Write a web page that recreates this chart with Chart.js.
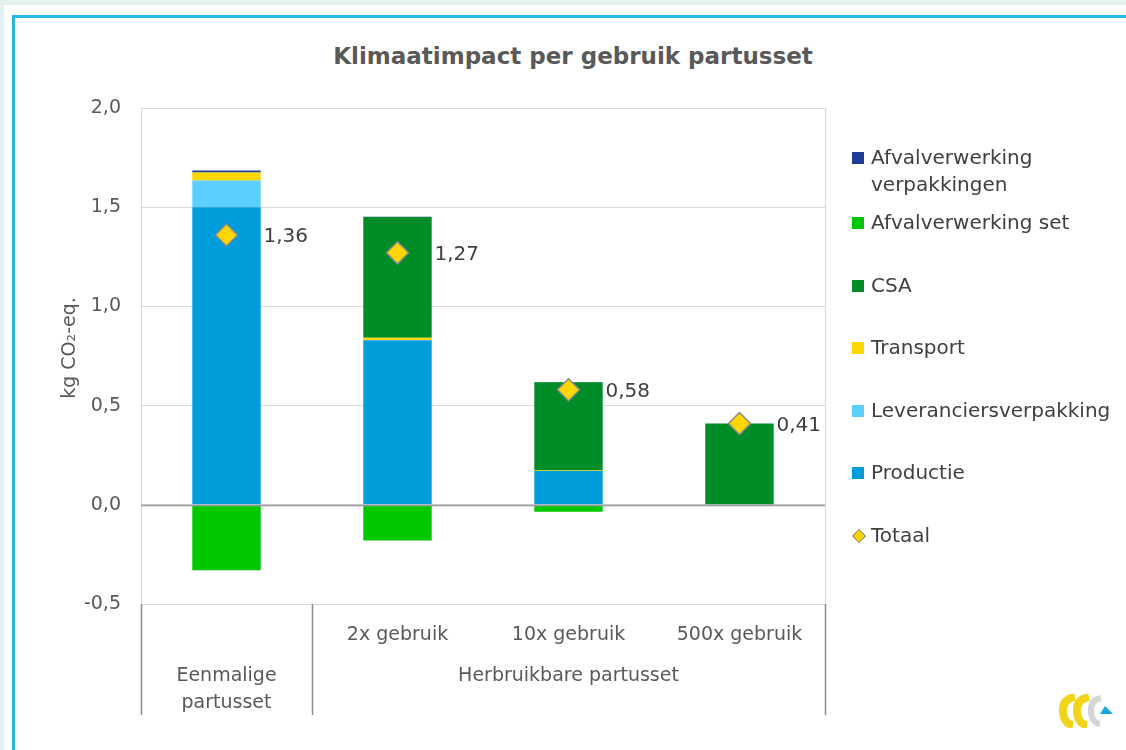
<!DOCTYPE html>
<html>
<head>
<meta charset="utf-8">
<script src="https://cdn.jsdelivr.net/npm/chart.js@4.4.1/dist/chart.umd.min.js"></script>
<style>
  html, body { margin: 0; padding: 0; }
  body { width: 1126px; height: 750px; background: #e4f2ef; position: relative; overflow: hidden; font-family: 'DejaVu Sans', sans-serif; }
  #sheet { position: absolute; left: 4px; top: 5px; right: 0; bottom: 0; background: #fff; }
  #frame { position: absolute; left: 12px; top: 15px; width: 1130px; height: 750px; border-left: 3px solid #27b9e3; border-top: 3px solid #27b9e3; }
  #wrap { position: absolute; left: 0; top: 0; width: 1126px; height: 750px; }
  #title { position: absolute; left: 0; width: 1146px; top: 43px; text-align: center; font-weight: bold; font-size: 23px; color: #595959; }
  #legend { position: absolute; left: 852px; top: 144px; font-size: 20px; color: #404040; }
  #legend .item { position: absolute; left: 0; white-space: nowrap; line-height: 27px; }
  #legend .sw { position: absolute; left: 0; top: 8px; width: 12px; height: 12px; }
  #legend .txt { position: absolute; left: 19px; top: 0; }
  #legend .dia { position: absolute; left: 2px; top: 9px; width: 8px; height: 8px; background: #ffd700; border: 1px solid #8c8c8c; transform: rotate(45deg); }
  #logo { position: absolute; left: 1058px; top: 694px; }
</style>
</head>
<body>
<div id="sheet"></div>
<div id="frame"></div>
<div id="title">Klimaatimpact per gebruik partusset</div>
<div id="wrap"><canvas id="chart"></canvas></div>
<div id="legend"></div>
<svg id="logo" width="56" height="34" viewBox="0 0 56 34">
  <path d="M17 3 Q4 5 5 18 Q6 30 15 31" fill="none" stroke="#f2d31b" stroke-width="8"/>
  <path d="M31 3 Q18 5 19 18 Q20 30 29 31" fill="none" stroke="#f2d31b" stroke-width="8"/>
  <path d="M43 4 Q32 6 33 18 Q34 29 42 30" fill="none" stroke="#d6d6d6" stroke-width="6"/>
  <path d="M47 12 L55 20 L42 20 Z" fill="#1aa6e0"/>
</svg>
<script>
const categories = ['Eenmalige partusset', '2x gebruik', '10x gebruik', '500x gebruik'];
const tickLabels = ['', '2x gebruik', '10x gebruik', '500x gebruik'];
const groups = [
  { lines: ['Eenmalige', 'partusset'], from: 0, to: 0 },
  { lines: ['Herbruikbare partusset'], from: 1, to: 3 }
];

const productie = [1.50, 0.83, 0.17, 0.0];
const leveranciersverpakking = [0.135, 0, 0, 0];
const transport = [0.04, 0.012, 0.003, 0];
const csa = [0, 0.608, 0.445, 0.41];
const afvalSet = [-0.33, -0.18, -0.035, 0];
const afvalVerpakkingen = [0.01, 0.002, 0.001, 0];
const totaal = [1.36, 1.27, 0.58, 0.41];

const yTicks = [-0.5, 0, 0.5, 1.0, 1.5, 2.0];

const colors = {
  afvalVerp: '#1f3c96',
  afvalSet: '#00c800',
  csa: '#008c26',
  transport: '#ffd700',
  lever: '#5ccfff',
  productie: '#009ddc'
};

const legendItems = [
  { label: ['Afvalverwerking', 'verpakkingen'], color: colors.afvalVerp, y: 0 },
  { label: ['Afvalverwerking set'], color: colors.afvalSet, y: 65 },
  { label: ['CSA'], color: colors.csa, y: 128 },
  { label: ['Transport'], color: colors.transport, y: 190 },
  { label: ['Leveranciersverpakking'], color: colors.lever, y: 253 },
  { label: ['Productie'], color: colors.productie, y: 315 },
  { label: ['Totaal'], diamond: true, y: 378 }
];

const legend = document.getElementById('legend');
legendItems.forEach(it => {
  const d = document.createElement('div');
  d.className = 'item';
  d.style.top = it.y + 'px';
  const mark = document.createElement('span');
  if (it.diamond) mark.className = 'dia';
  else { mark.className = 'sw'; mark.style.background = it.color; }
  d.appendChild(mark);
  const t = document.createElement('span');
  t.className = 'txt';
  t.innerHTML = it.label.join('<br>');
  d.appendChild(t);
  legend.appendChild(d);
});

const fmt = v => v.toFixed(1).replace('.', ',');
const FONT = "'DejaVu Sans', sans-serif";

const frameLines = {
  id: 'frameLines',
  afterDraw(chart) {
    const ctx = chart.ctx, a = chart.chartArea, y = chart.scales.y;
    const step = (a.right - a.left) / categories.length;
    const bottom = 715;
    ctx.save();
    // plot border
    ctx.strokeStyle = '#d9d9d9';
    ctx.lineWidth = 1;
    ctx.beginPath();
    ctx.moveTo(a.left + 0.5, a.top + 0.5); ctx.lineTo(a.right + 0.5, a.top + 0.5);
    ctx.lineTo(a.right + 0.5, a.bottom + 0.5); ctx.lineTo(a.left + 0.5, a.bottom + 0.5);
    ctx.closePath();
    ctx.stroke();
    // zero line
    const y0 = Math.round(y.getPixelForValue(0)) + 0.5;
    ctx.strokeStyle = '#9a9a9a';
    ctx.lineWidth = 1.5;
    ctx.beginPath(); ctx.moveTo(a.left, y0); ctx.lineTo(a.right, y0); ctx.stroke();
    // group separators
    ctx.strokeStyle = '#8c8c8c';
    ctx.lineWidth = 1.5;
    const seps = [a.left];
    groups.forEach(g => seps.push(a.left + step * (g.to + 1)));
    seps.forEach(sx => {
      ctx.beginPath(); ctx.moveTo(Math.round(sx) + 0.5, a.bottom); ctx.lineTo(Math.round(sx) + 0.5, bottom); ctx.stroke();
    });
    // group labels
    ctx.fillStyle = '#595959';
    ctx.font = '19px ' + FONT;
    ctx.textAlign = 'center';
    ctx.textBaseline = 'middle';
    groups.forEach(g => {
      const cx = a.left + step * (g.from + g.to + 1) / 2;
      g.lines.forEach((ln, i) => ctx.fillText(ln, cx, 676 + i * 27));
    });
    // total labels
    const meta = chart.getDatasetMeta(chart.data.datasets.length - 1);
    ctx.fillStyle = '#404040';
    ctx.font = '20px ' + FONT;
    ctx.textAlign = 'left';
    meta.data.forEach((pt, i) => {
      ctx.fillText(totaal[i].toFixed(2).replace('.', ','), pt.x + 37, pt.y + 2);
    });
    ctx.restore();
  }
};

const barDs = (label, data, color) => ({
  type: 'bar', label, data, backgroundColor: color, borderWidth: 0,
  barPercentage: 0.4, categoryPercentage: 1.0, stack: 'main', order: 1
});

new Chart(document.getElementById('chart'), {
  data: {
    labels: tickLabels,
    datasets: [
      barDs('Productie', productie, colors.productie),
      barDs('Leveranciersverpakking', leveranciersverpakking, colors.lever),
      barDs('Transport', transport, colors.transport),
      barDs('CSA', csa, colors.csa),
      barDs('Afvalverwerking set', afvalSet, colors.afvalSet),
      barDs('Afvalverwerking verpakkingen', afvalVerpakkingen, colors.afvalVerp),
      {
        type: 'line', label: 'Totaal', data: totaal, showLine: false, stack: 'tot', order: 0,
        pointStyle: 'rectRot', pointRadius: 11, pointHoverRadius: 11,
        pointBackgroundColor: '#ffd700', pointBorderColor: '#8c8c8c', pointBorderWidth: 1.5
      }
    ]
  },
  options: {
    responsive: true,
    maintainAspectRatio: false,
    animation: false,
    layout: { padding: { left: 0, top: 108, right: 301, bottom: 0 } },
    plugins: { legend: { display: false }, tooltip: { enabled: false }, title: { display: false } },
    scales: {
      x: {
        stacked: true,
        grid: { display: false },
        border: { display: false },
        ticks: { color: '#595959', font: { family: FONT, size: 19 }, padding: 12, maxRotation: 0 },
        afterFit: s => { s.height = 146; }
      },
      y: {
        stacked: true,
        min: -0.5, max: 2.0,
        afterBuildTicks: s => { s.ticks = yTicks.map(v => ({ value: v })); },
        grid: { color: '#d9d9d9', drawTicks: false },
        border: { display: false },
        ticks: { color: '#595959', font: { family: FONT, size: 19 }, padding: 20, callback: v => fmt(v) },
        title: { display: false },
        afterFit: s => { s.width = 141; }
      }
    }
  },
  plugins: [frameLines, {
    id: 'yTitle',
    afterDraw(chart) {
      const ctx = chart.ctx;
      ctx.save();
      ctx.translate(70, 348);
      ctx.rotate(-Math.PI / 2);
      ctx.fillStyle = '#595959';
      ctx.font = '19px ' + FONT;
      ctx.textAlign = 'center';
      ctx.textBaseline = 'middle';
      ctx.fillText('kg CO\u2082-eq.', 0, 0);
      ctx.restore();
    }
  }]
});
</script>
</body>
</html>
